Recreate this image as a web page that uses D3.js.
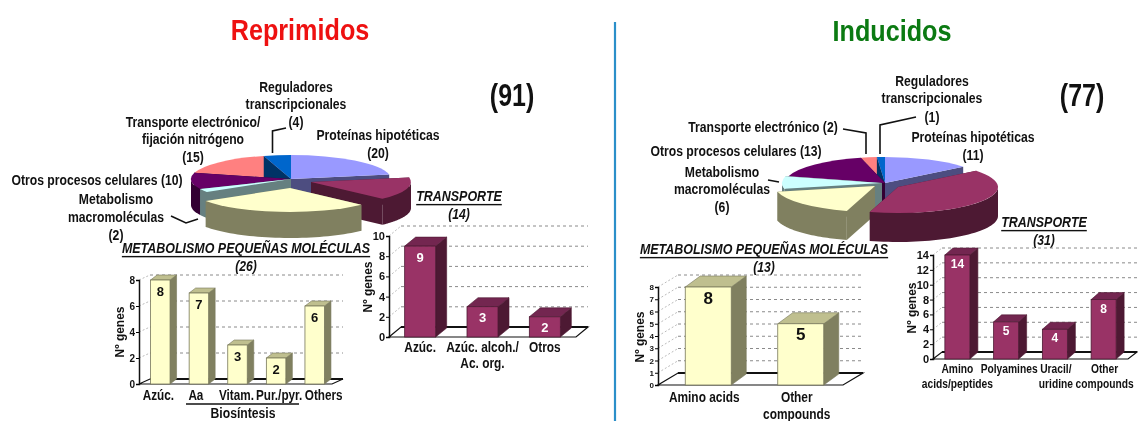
<!DOCTYPE html>
<html>
<head>
<meta charset="utf-8">
<script src="https://cdn.jsdelivr.net/npm/d3@7"></script>
<style>
html, body { margin: 0; padding: 0; background: #fff; }
svg { display: block; filter: blur(0.35px); }
text { font-family: "Liberation Sans", Arial, sans-serif; font-weight: bold; fill: #111; }
.tick text { font-size: 9px; }
</style>
</head>
<body>
<div id="my_dataviz"></div>
<script>
// pie data (clockwise from 12 o'clock)
var pieCategories = ["Proteínas hipotéticas","Transporte","Metabolismo pequeñas moléculas","Metabolismo macromoléculas","Otros procesos celulares","Transporte electrónico","Reguladores transcripcionales"]
var repPieValues = [20,14,26,2,10,15,4]
var indPieValues = [11,31,13,6,13,2,1]

// bar data
var repSmallCats = ["Azúc.","Aa","Vitam.","Pur./pyr.","Others"]
var repSmallVals = [8,7,3,2,6]
var repSmallTicks = [0,2,4,6,8]

var repTransCats = ["Azúc.","Azúc. alcoh./\nAc. org.","Otros"]
var repTransVals = [9,3,2]
var repTransTicks = [0,2,4,6,8,10]

var indSmallCats = ["Amino acids","Other\ncompounds"]
var indSmallVals = [8,5]
var indSmallTicks = [0,1,2,3,4,5,6,7,8]

var indTransCats = ["Amino\nacids/peptides","Polyamines","Uracil/\nuridine","Other\ncompounds"]
var indTransVals = [14,5,4,8]
var indTransTicks = [0,2,4,6,8,10,12,14]

var svg = d3.select("#my_dataviz").append("svg")
  .attr("width", 1138)
  .attr("height", 421)

var topColors  = ["#9999ff","#993366","#ffffcc","#ccffff","#660066","#ff8080","#0066cc"]
var wallColors = ["#4d4d80","#4d1933","#808060","#668080","#330033","#804040","#003366"]
var yellowBar = {front:"#ffffcc", top:"#bfbf8f", side:"#808060", stroke:"#77775a", text:"#111"}
var purpleBar = {front:"#993366", top:"#732650", side:"#4d1933", stroke:"#4d1933", text:"#fff"}

// no narrow font on the box, so squeeze the text horizontally
function label(x, y, txt, size, color, squeeze, rotate) {
  return svg.append("text")
    .attr("transform", "translate(" + x + "," + y + ") rotate(" + (rotate || 0) + ") scale(" + (squeeze || 0.87) + ",1)")
    .attr("text-anchor", "middle")
    .attr("dominant-baseline", "central")
    .style("font-size", size + "px")
    .style("fill", color || "#111")
    .text(txt)
}

function leader(points) {
  svg.append("path")
    .attr("d", d3.line()(points))
    .attr("fill", "none")
    .attr("stroke", "#111")
    .attr("stroke-width", 1.6)
}

// titled subheading: italic underlined with count under it
function heading(x, y, txt, count, size) {
  label(x, y, txt, size, "#111", 0.89).style("font-style", "italic").style("text-decoration", "underline")
  label(x, y + 18, count, size).style("font-style", "italic")
}

// 3D pie: flat ellipse plus extruded walls, exploded slices moved by offsets
function drawPie(values, o) {
  var arcs = d3.pie().sort(null)(values)
  var g = svg.append("g").attr("transform", "translate(" + o.cx + "," + o.cy + ")")
  var top = d3.arc().innerRadius(0).outerRadius(o.r)
  var pt = function(a) { return [o.r * Math.sin(a), -o.r * o.k * Math.cos(a)] }

  o.order.forEach(function(i) {
    var d = arcs[i]
    var s = g.append("g").attr("transform", "translate(" + o.offsets[i][0] + "," + o.offsets[i][1] + ")")

    // cut faces
    ;[d.startAngle, d.endAngle].forEach(function(a) {
      var p = pt(a)
      s.append("path")
        .attr("d", d3.line()([[0,0], p, [p[0], p[1] + o.depth], [0, o.depth]]) + "Z")
        .attr("fill", wallColors[i])
    })

    // outer wall, only the part facing us
    var a0 = Math.max(d.startAngle, Math.PI / 2), a1 = Math.min(d.endAngle, 3 * Math.PI / 2)
    if (a1 > a0) {
      var angles = d3.range(0, 41).map(function(t) { return a0 + (a1 - a0) * t / 40 })
      var upper = angles.map(pt)
      var lower = upper.map(function(p) { return [p[0], p[1] + o.depth] }).reverse()
      s.append("path")
        .attr("d", d3.line()(upper.concat(lower)) + "Z")
        .attr("fill", wallColors[i])
    }

    s.append("path")
      .attr("transform", "scale(1," + o.k + ")")
      .attr("d", top(d))
      .attr("fill", topColors[i])
  })
}

// fake-3D bar chart on a floor with a dashed back wall
function drawBars(cats, vals, ticks, c, o) {
  var x = d3.scaleBand().domain(cats).range([o.x0, o.x1])
  var y = d3.scaleLinear().domain(o.domain).range([o.y0, o.yTop])
  var g = svg.append("g")

  // side and back grid
  ticks.filter(function(t) { return t > 0 }).forEach(function(t) {
    g.append("line")
      .attr("x1", o.x0 + o.dx).attr("x2", o.x1 + o.dx + o.extra)
      .attr("y1", y(t) - o.dy).attr("y2", y(t) - o.dy)
      .attr("stroke", "#8a8a8a").attr("stroke-dasharray", "3,3")
    g.append("line")
      .attr("x1", o.x0).attr("x2", o.x0 + o.dx)
      .attr("y1", y(t)).attr("y2", y(t) - o.dy)
      .attr("stroke", "#bbb").attr("stroke-dasharray", "2,2")
  })

  // floor
  g.append("path")
    .attr("d", d3.line()([[o.x0, o.y0], [o.x1 + o.extra, o.y0], [o.x1 + o.extra + o.dx, o.y0 - o.dy], [o.x0 + o.dx, o.y0 - o.dy]]) + "Z")
    .attr("fill", "#fff").attr("stroke", "#111").attr("stroke-width", 1.2)
  g.append("line")
    .attr("x1", o.x0 + o.dx).attr("x2", o.x1 + o.extra + o.dx)
    .attr("y1", o.y0 - o.dy).attr("y2", o.y0 - o.dy)
    .attr("stroke", "#111").attr("stroke-width", 2)

  // y axis
  var axis = g.append("g")
    .attr("transform", "translate(" + o.x0 + ",0)")
    .call(d3.axisLeft(y).tickValues(ticks).tickSize(3).tickPadding(1))
  axis.select(".domain").attr("stroke", "#111").attr("stroke-width", 1.5)
  axis.selectAll(".tick text").style("font-size", o.tickSize + "px")

  // bars
  cats.forEach(function(cat, i) {
    var left = x(cat) + (x.bandwidth() - o.w) / 2 + (o.shift || 0)
    var right = left + o.w
    var t = y(vals[i])
    g.append("path")
      .attr("d", d3.line()([[right, t], [right + o.bx, t - o.by], [right + o.bx, o.y0 - o.by], [right, o.y0]]) + "Z")
      .attr("fill", c.side).attr("stroke", c.stroke).attr("stroke-width", 0.6)
    g.append("path")
      .attr("d", d3.line()([[left, t], [left + o.bx, t - o.by], [right + o.bx, t - o.by], [right, t]]) + "Z")
      .attr("fill", c.top).attr("stroke", c.stroke).attr("stroke-width", 0.6)
    g.append("rect")
      .attr("x", left).attr("y", t).attr("width", o.w).attr("height", y(0) - t)
      .attr("fill", c.front).attr("stroke", c.stroke).attr("stroke-width", 0.8)
    label(left + o.w / 2, t + o.valueGap, vals[i], o.valueSize, c.text, 1)

    // category labels, possibly two lines
    var cx = x(cat) + x.bandwidth() / 2 + (o.labelShift ? o.labelShift[i] : 0)
    cat.split("\n").forEach(function(line, n) {
      label(cx, o.labelY + n * o.labelStep, line, o.labelSize, "#111", o.labelSqueeze)
    })
  })

  label(o.titleX, o.titleY, "Nº genes", o.titleSize, "#111", 0.92, -90)
}

// titles and divider
label(300, 30, "Reprimidos", 30, "#ee1111", 0.84)
label(892, 31, "Inducidos", 30, "#0b7a12", 0.84)
svg.append("line")
  .attr("x1", 615).attr("x2", 615).attr("y1", 22).attr("y2", 421)
  .attr("stroke", "#2b8fc9").attr("stroke-width", 2.2)

// left pie
drawPie(repPieValues, {
  cx: 291, cy: 179, r: 100, k: 0.24, depth: 26,
  order: [5,6,0,4,3,1,2],
  offsets: [[0,0],[20,3],[-1,9],[0,0],[0,0],[0,0],[0,0]]
})
label(296, 87, "Reguladores", 14)
label(296, 104, "transcripcionales", 14)
label(296, 122, "(4)", 14)
label(193, 122, "Transporte electrónico/", 14)
label(193, 139, "fijación nitrógeno", 14)
label(193, 157, "(15)", 14)
label(378, 135, "Proteínas hipotéticas", 14)
label(378, 153, "(20)", 14)
label(97, 180, "Otros procesos celulares (10)", 14)
label(116, 199, "Metabolismo", 14)
label(116, 217, "macromoléculas", 14)
label(116, 235, "(2)", 14)
label(512, 95, "(91)", 32, "#111", 0.78)
leader([[272.5,153],[272.5,131],[286,128]])
leader([[171,216],[186,223],[198,219]])

// right pie
drawPie(indPieValues, {
  cx: 885, cy: 183, r: 100, k: 0.26, depth: 29,
  order: [5,6,0,4,3,2,1],
  offsets: [[0,0],[13,4],[-10,3],[-3,0],[0,0],[0,0],[0,0]]
})
label(932, 81, "Reguladores", 14)
label(932, 98, "transcripcionales", 14)
label(932, 117, "(1)", 14)
label(763, 127, "Transporte electrónico (2)", 14)
label(736, 151, "Otros procesos celulares (13)", 14)
label(973, 137, "Proteínas hipotéticas", 14)
label(973, 155, "(11)", 14)
label(722, 172, "Metabolismo", 14)
label(722, 189, "macromoléculas", 14)
label(722, 207, "(6)", 14)
label(1082, 95, "(77)", 32, "#111", 0.78)
leader([[843,129],[866,133],[866,154]])
leader([[916,117],[880,125],[880,154]])
leader([[768,180],[779,182]])

// sub headings
heading(246, 248, "METABOLISMO PEQUEÑAS MOLÉCULAS", "(26)", 14)
heading(459, 196, "TRANSPORTE", "(14)", 14)
heading(764, 249, "METABOLISMO PEQUEÑAS MOLÉCULAS", "(13)", 14)
heading(1044, 222, "TRANSPORTE", "(31)", 14)

drawBars(repSmallCats, repSmallVals, repSmallTicks, yellowBar, {
  x0:139, x1:332, y0:384, yTop:280, domain:[0,8], dx:11, dy:5, extra:0, w:19.5, bx:6.5, by:5, shift:2,
  tickSize:10, valueSize:13, valueGap:11, labelY:395, labelStep:18, labelSize:14, labelSqueeze:0.84,
  labelShift:[0,-1,1,5,11], titleX:120, titleY:332, titleSize:13
})
// Biosíntesis bracket
svg.append("line").attr("x1",186).attr("x2",299).attr("y1",404).attr("y2",404)
  .attr("stroke","#111").attr("stroke-width",1.4)
label(243, 413, "Biosíntesis", 14)

drawBars(repTransCats, repTransVals, repTransTicks, purpleBar, {
  x0:389, x1:576, y0:337, yTop:236, domain:[0,10], dx:12, dy:10, extra:0, w:31, bx:11, by:9,
  tickSize:11, valueSize:13, valueGap:11, labelY:347, labelStep:16, labelSize:14, labelSqueeze:0.85,
  titleX:368, titleY:287, titleSize:13
})

drawBars(indSmallCats, indSmallVals, indSmallTicks, yellowBar, {
  x0:658, x1:843, y0:385, yTop:287, domain:[0,8], dx:20, dy:12, extra:0, w:46, bx:15, by:11, shift:4,
  tickSize:8, valueSize:17, valueGap:11, labelY:397, labelStep:17, labelSize:14, labelSqueeze:0.85,
  titleX:640, titleY:337, titleSize:13
})

drawBars(indTransCats, indTransVals, indTransTicks, purpleBar, {
  x0:933, x1:1128, y0:359, yTop:255, domain:[0,14], dx:9, dy:7, extra:0, w:25, bx:8, by:7,
  tickSize:11, valueSize:12, valueGap:9, labelY:369, labelStep:15, labelSize:12.5, labelSqueeze:0.82,
  labelShift:[0,3,1,1], titleX:912, titleY:308, titleSize:13
})
</script>
</body>
</html>
